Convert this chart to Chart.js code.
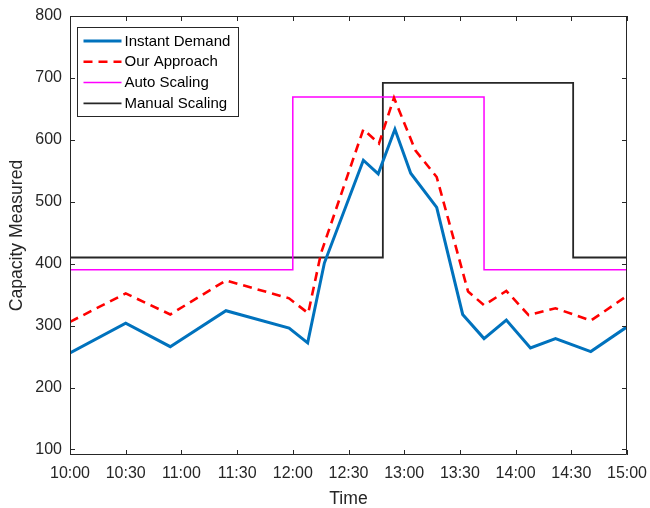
<!DOCTYPE html>
<html>
<head>
<meta charset="utf-8">
<script src="https://cdn.jsdelivr.net/npm/chart.js@4.4.1/dist/chart.umd.min.js"></script>
<style>
  html, body { margin: 0; padding: 0; background: #ffffff; }
  #wrap { width: 650px; height: 508px; }
</style>
</head>
<body>
<div id="wrap"><canvas id="c" width="650" height="508"></canvas></div>
<script>
// ---- data (x = minutes after 10:00) ----
const xTickMinutes = [0, 30, 60, 90, 120, 150, 180, 210, 240, 270, 300];
const yTickValues = [100, 200, 300, 400, 500, 600, 700, 800];

const demandTimes  = [0, 30, 54, 84, 118, 128, 137, 158, 166, 175, 183.5, 197.5, 211.5, 223, 235, 248, 261.5, 280.5, 300];
const demandValues = [256, 304, 266, 324, 296, 272, 401, 567, 545, 617, 546, 491, 318, 279, 309, 264, 279, 258, 298];

const approachTimes  = [0, 30, 54, 84, 118, 128.3, 135.2, 158, 166.4, 174.5, 186, 197.5, 214.4, 223, 235, 247, 261.5, 280.5, 300];
const approachValues = [306, 352, 318, 373, 344, 320, 417, 617, 594, 668, 583, 540, 355, 333, 356, 317, 328, 308, 348];

const autoTimes  = [0, 120, 223, 300];
const autoValues = [390, 669, 390, 390];

const manualTimes  = [0, 168.5, 271, 300];
const manualValues = [410, 692, 410, 410];

const seriesLabels = ['Instant Demand', 'Our Approach', 'Auto Scaling', 'Manual Scaling'];

function pts(xs, ys) { return xs.map((x, i) => ({ x: x, y: ys[i] })); }
function fmtTime(m) {
  const h = 10 + Math.floor(m / 60);
  const mm = m % 60;
  return h + ':' + (mm < 10 ? '0' + mm : mm);
}

const AXIS = '#262626';
const FONT = "'Liberation Sans', Arial, Helvetica, sans-serif";

// MATLAB-like box with inward ticks
const boxPlugin = {
  id: 'boxPlugin',
  afterDatasetsDraw(chart) {
    const { ctx, chartArea: a, scales } = chart;
    ctx.save();
    ctx.strokeStyle = AXIS;
    ctx.lineWidth = 1;
    ctx.beginPath();
    ctx.rect(a.left + 0.5, a.top + 0.5, a.right - a.left - 1, a.bottom - a.top - 1);
    ctx.stroke();
    const tl = 5;
    ctx.beginPath();
    xTickMinutes.forEach(m => {
      const px = Math.round(scales.x.getPixelForValue(m)) + 0.5;
      ctx.moveTo(px, a.bottom); ctx.lineTo(px, a.bottom - tl);
      ctx.moveTo(px, a.top); ctx.lineTo(px, a.top + tl);
    });
    yTickValues.forEach(v => {
      const py = Math.round(scales.y.getPixelForValue(v)) + 0.5;
      ctx.moveTo(a.left, py); ctx.lineTo(a.left + tl, py);
      ctx.moveTo(a.right, py); ctx.lineTo(a.right - tl, py);
    });
    ctx.stroke();
    ctx.restore();
  },
  afterDraw(chart) {
    const { ctx } = chart;
    const bx = 77.5, by = 27.5, bw = 161, bh = 89;
    ctx.save();
    ctx.fillStyle = '#ffffff';
    ctx.fillRect(bx, by, bw, bh);
    ctx.strokeStyle = AXIS;
    ctx.lineWidth = 1;
    ctx.strokeRect(bx, by, bw, bh);
    ctx.font = '15px ' + FONT;
    ctx.textBaseline = 'middle';
    ctx.fillStyle = '#000000';
    chart.data.datasets.forEach((ds, i) => {
      const yy = by + 13.5 + i * 20.8;
      ctx.beginPath();
      ctx.strokeStyle = ds.borderColor;
      ctx.lineWidth = ds.borderWidth;
      ctx.setLineDash(ds.borderDash || []);
      ctx.moveTo(bx + 6, yy);
      ctx.lineTo(bx + 44, yy);
      ctx.stroke();
      ctx.setLineDash([]);
      ctx.fillText(ds.label, bx + 47, yy + 0.5);
    });
    ctx.restore();
  }
};

new Chart(document.getElementById('c'), {
  type: 'line',
  data: {
    datasets: [
      { label: seriesLabels[0], data: pts(demandTimes, demandValues), borderColor: '#0072BD', borderWidth: 3, pointRadius: 0, tension: 0, fill: false },
      { label: seriesLabels[1], data: pts(approachTimes, approachValues), borderColor: '#FF0000', borderWidth: 2.6, borderDash: [9, 6], pointRadius: 0, tension: 0, fill: false },
      { label: seriesLabels[2], data: pts(autoTimes, autoValues), borderColor: '#FF00FF', borderWidth: 1.5, stepped: 'before', pointRadius: 0, fill: false },
      { label: seriesLabels[3], data: pts(manualTimes, manualValues), borderColor: '#262626', borderWidth: 1.8, stepped: 'before', pointRadius: 0, fill: false }
    ]
  },
  options: {
    responsive: false,
    animation: false,
    devicePixelRatio: 1,
    layout: { padding: { top: 16, right: 23, left: 0, bottom: 0 } },
    plugins: { legend: { display: false }, tooltip: { enabled: false } },
    scales: {
      x: {
        type: 'linear', min: 0, max: 300,
        afterBuildTicks(s) { s.ticks = xTickMinutes.map(v => ({ value: v })); },
        afterFit(s) { s.height = 53; s.paddingLeft = 0; s.paddingRight = 0; },
        grid: { display: false, drawTicks: false },
        border: { display: false },
        ticks: { color: AXIS, font: { family: FONT, size: 16 }, padding: 9, maxRotation: 0, autoSkip: false, callback: v => fmtTime(v) },
        title: { display: true, text: 'Time', color: AXIS, font: { family: FONT, size: 17.6, lineHeight: 1.05 }, padding: { top: 0, bottom: 0 } }
      },
      y: {
        type: 'linear', min: 91, max: 800,
        afterBuildTicks(s) { s.ticks = yTickValues.map(v => ({ value: v })); },
        afterFit(s) { s.width = 70; s.paddingTop = 0; s.paddingBottom = 0; },
        grid: { display: false, drawTicks: false },
        border: { display: false },
        ticks: { color: AXIS, font: { family: FONT, size: 16 }, padding: 8, callback: v => String(v) },
        title: { display: true, text: 'Capacity Measured', color: AXIS, font: { family: FONT, size: 17.6 }, padding: { top: 6.5, bottom: 0 } }
      }
    }
  },
  plugins: [boxPlugin]
});
</script>
</body>
</html>
